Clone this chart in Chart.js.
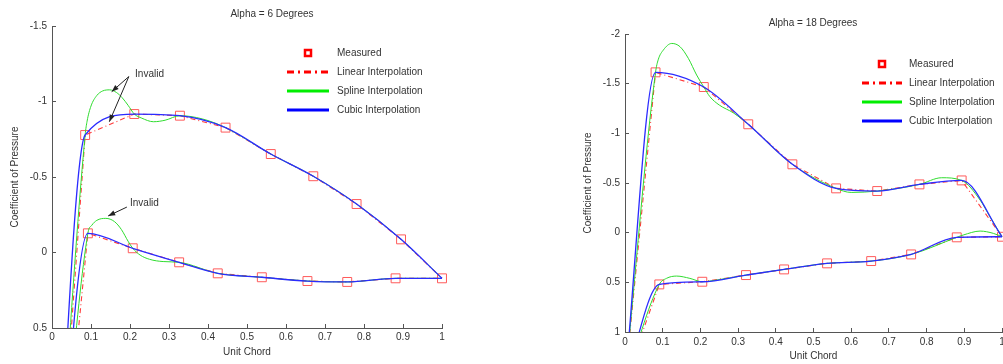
<!DOCTYPE html>
<html>
<head>
<meta charset="utf-8">
<title>Coefficient of Pressure</title>
<script src="https://cdn.jsdelivr.net/npm/chart.js@4.4.1/dist/chart.umd.min.js"></script>
<style>
  html, body { margin: 0; padding: 0; background: #fff; }
  #wrap { position: relative; width: 1003px; height: 364px; overflow: hidden; }
  #left { position: absolute; left: 0; top: 0; }
  #right { position: absolute; left: 500px; top: 0; }
</style>
</head>
<body>
<div id="wrap">
  <canvas id="left" width="500" height="364"></canvas>
  <canvas id="right" width="503" height="364"></canvas>
</div>
<script>
// Alpha = 6: measured Cp, upper and lower surface (first point is the leading edge, off scale)
const chordUp6 = [0, 0.085, 0.211, 0.328, 0.445, 0.561, 0.670, 0.781, 0.895, 1.0];
const cpUp6 = [2.3, -0.778, -0.917, -0.906, -0.827, -0.652, -0.505, -0.321, -0.087, 0.171];
const chordLo6 = [0, 0.092, 0.207, 0.326, 0.425, 0.538, 0.655, 0.757, 0.881, 1.0];
const cpLo6 = [2.3, -0.127, -0.028, 0.065, 0.138, 0.164, 0.189, 0.195, 0.171, 0.171];

// Alpha = 6: spline curve
const splineChordUp6 = [0, 0.085, 0.09, 0.10, 0.115, 0.13, 0.148, 0.165, 0.18, 0.195, 0.211, 0.23, 0.26, 0.29, 0.328, 0.385, 0.445, 0.561, 0.670, 0.781, 0.895, 1.0];
const splineCpUp6 = [2.3, -0.778, -0.87, -0.97, -1.04, -1.07, -1.077, -1.06, -1.025, -0.975, -0.917, -0.89, -0.866, -0.876, -0.906, -0.885, -0.827, -0.652, -0.505, -0.321, -0.087, 0.171];
const splineChordLo6 = [0, 0.092, 0.102, 0.115, 0.138, 0.16, 0.178, 0.195, 0.207, 0.226, 0.25, 0.285, 0.326, 0.425, 0.538, 0.655, 0.757, 0.881, 1.0];
const splineCpLo6 = [2.3, -0.127, -0.18, -0.213, -0.226, -0.205, -0.152, -0.075, -0.028, 0.017, 0.045, 0.06, 0.065, 0.138, 0.164, 0.189, 0.195, 0.171, 0.171];

// Alpha = 18: measured Cp
const chordUp18 = [0, 0.081, 0.209, 0.327, 0.444, 0.560, 0.669, 0.781, 0.893, 1.0];
const cpUp18 = [1.5, -1.614, -1.466, -1.091, -0.688, -0.446, -0.419, -0.486, -0.526, 0.041];
const chordLo18 = [0, 0.091, 0.205, 0.321, 0.422, 0.536, 0.653, 0.759, 0.880, 1.0];
const cpLo18 = [1.5, 0.521, 0.494, 0.427, 0.370, 0.309, 0.286, 0.219, 0.047, 0.041];

// Alpha = 18: spline curve
const splineChordUp18 = [0, 0.081, 0.088, 0.102, 0.124, 0.146, 0.168, 0.19, 0.209, 0.225, 0.25, 0.287, 0.327, 0.444, 0.560, 0.60, 0.669, 0.781, 0.84, 0.893, 0.942, 0.968, 1.0];
const splineCpUp18 = [1.5, -1.614, -1.74, -1.84, -1.905, -1.872, -1.755, -1.587, -1.466, -1.37, -1.285, -1.207, -1.091, -0.688, -0.446, -0.405, -0.419, -0.486, -0.553, -0.526, -0.328, -0.16, 0.041];
const splineChordLo18 = [0, 0.091, 0.11, 0.137, 0.172, 0.205, 0.243, 0.321, 0.422, 0.536, 0.653, 0.759, 0.880, 0.897, 0.942, 0.977, 1.0];
const splineCpLo18 = [1.5, 0.521, 0.46, 0.437, 0.46, 0.494, 0.477, 0.427, 0.370, 0.309, 0.286, 0.219, 0.047, 0.024, -0.016, 0.007, 0.041];

// tick labels
const chordTicks = [0, 0.1, 0.2, 0.3, 0.4, 0.5, 0.6, 0.7, 0.8, 0.9, 1];
const cpTicks6 = [-1.5, -1, -0.5, 0, 0.5];
const cpTicks18 = [-2, -1.5, -1, -0.5, 0, 0.5, 1];

// "Invalid" notes: text position and arrows [fromX, fromY, toX, toY] in data units
const notes6 = [
    { text: 'Invalid', at: [0.213, -1.18], arrows: [[0.197, -1.165, 0.153, -1.065], [0.197, -1.165, 0.147, -0.866]] },
    { text: 'Invalid', at: [0.2, -0.328], arrows: [[0.192, -0.301, 0.144, -0.242]] }
];

const FONT = '"Liberation Sans", Arial, sans-serif';
const RED = '#ff3b3b';
const GREEN = '#2fdc2f';
const BLUE = '#2b2bff';

const legendItems = [
    { label: 'Measured', marker: true },
    { label: 'Linear Interpolation', color: '#ff0000', dash: [7, 4, 2, 4] },
    { label: 'Spline Interpolation', color: '#00ee00', dash: [] },
    { label: 'Cubic Interpolation', color: '#0000ff', dash: [] }
];

function toPoints(xs, ys) {
    return xs.map((x, i) => ({ x: x, y: ys[i] }));
}

function drawArrow(ctx, x0, y0, x1, y1) {
    const ang = Math.atan2(y1 - y0, x1 - x0);
    ctx.beginPath();
    ctx.moveTo(x0, y0);
    ctx.lineTo(x1, y1);
    ctx.stroke();
    ctx.beginPath();
    ctx.moveTo(x1, y1);
    ctx.lineTo(x1 - 7 * Math.cos(ang) + 2.6 * Math.sin(ang), y1 - 7 * Math.sin(ang) - 2.6 * Math.cos(ang));
    ctx.lineTo(x1 - 7 * Math.cos(ang) - 2.6 * Math.sin(ang), y1 - 7 * Math.sin(ang) + 2.6 * Math.cos(ang));
    ctx.closePath();
    ctx.fill();
}

const decorPlugin = {
    id: 'decor',
    afterDraw(chart, args, opts) {
        const ctx = chart.ctx;
        const xs = chart.scales.x, ys = chart.scales.y;
        ctx.save();
        ctx.font = '10px ' + FONT;
        ctx.fillStyle = '#333';
        ctx.textAlign = 'center';
        ctx.textBaseline = 'middle';
        ctx.fillText(opts.title, opts.titleAt[0], opts.titleAt[1]);

        const lg = opts.legend;
        ctx.textAlign = 'left';
        legendItems.forEach((item, i) => {
            const y = lg.y + i * lg.row;
            if (item.marker) {
                ctx.strokeStyle = '#ff0000';
                ctx.lineWidth = 2.5;
                ctx.strokeRect(lg.x + lg.w / 2 - 3, y - 3, 6, 6);
            } else {
                ctx.strokeStyle = item.color;
                ctx.lineWidth = 3;
                ctx.setLineDash(item.dash);
                ctx.beginPath();
                ctx.moveTo(lg.x, y);
                ctx.lineTo(lg.x + lg.w, y);
                ctx.stroke();
                ctx.setLineDash([]);
            }
            ctx.fillStyle = '#333';
            ctx.fillText(item.label, lg.x + lg.w + lg.gap, y);
        });

        ctx.lineWidth = 1;
        (opts.notes || []).forEach(n => {
            ctx.fillStyle = '#333';
            ctx.fillText(n.text, xs.getPixelForValue(n.at[0]), ys.getPixelForValue(n.at[1]));
            ctx.strokeStyle = '#222';
            ctx.fillStyle = '#222';
            n.arrows.forEach(a => {
                drawArrow(ctx, xs.getPixelForValue(a[0]), ys.getPixelForValue(a[1]),
                    xs.getPixelForValue(a[2]), ys.getPixelForValue(a[3]));
            });
        });
        ctx.restore();
    }
};

function lineSet(label, xs, ys, color, width, order, extra) {
    return Object.assign({
        label: label,
        data: toPoints(xs, ys),
        borderColor: color,
        borderWidth: width,
        pointRadius: 0,
        fill: false,
        order: order,
        clip: { left: 0, top: 0, right: 1, bottom: 0 }
    }, extra);
}

function renderCpChart(htmlId, s) {
    const ctx = document.getElementById(htmlId).getContext('2d');
    const monotone = { cubicInterpolationMode: 'monotone' };
    const straight = { tension: 0, borderDash: [5, 3, 1, 3] };
    const measured = toPoints(s.chordUp.slice(1), s.cpUp.slice(1))
        .concat(toPoints(s.chordLo.slice(1, -1), s.cpLo.slice(1, -1)));

    new Chart(ctx, {
        type: 'line',
        data: {
            datasets: [
                {
                    label: 'Measured', data: measured, showLine: false,
                    pointStyle: 'rect', pointRadius: 6.3, pointBorderWidth: 1,
                    pointBorderColor: '#ff5a5a', pointBackgroundColor: 'rgba(0,0,0,0)',
                    order: 4, clip: { left: 8, top: 8, right: 8, bottom: 0 }
                },
                lineSet('Linear upper', s.chordUp, s.cpUp, RED, 1.1, 3, straight),
                lineSet('Linear lower', s.chordLo, s.cpLo, RED, 1.1, 3, straight),
                lineSet('Spline upper', s.splineChordUp, s.splineCpUp, GREEN, 1, 2, monotone),
                lineSet('Spline lower', s.splineChordLo, s.splineCpLo, GREEN, 1, 2, monotone),
                lineSet('Cubic upper', s.chordUp, s.cpUp, BLUE, 1.3, 1, monotone),
                lineSet('Cubic lower', s.chordLo, s.cpLo, BLUE, 1.3, 1, monotone)
            ]
        },
        options: {
            responsive: false,
            animation: false,
            events: [],
            layout: { padding: s.pad, autoPadding: false },
            plugins: {
                legend: { display: false },
                tooltip: { enabled: false },
                decor: { title: s.title, titleAt: s.titleAt, legend: s.legend, notes: s.notes }
            },
            scales: {
                x: {
                    type: 'linear', min: 0, max: 1,
                    afterBuildTicks: scale => { scale.ticks = chordTicks.map(v => ({ value: v })); },
                    afterFit: scale => { scale.height = s.xAxisHeight; scale.paddingLeft = 0; scale.paddingRight = 0; },
                    grid: { drawOnChartArea: false, tickLength: -4, color: '#555' },
                    border: { color: '#555', width: 1 },
                    ticks: {
                        color: '#333', padding: s.xTickPad, maxRotation: 0, autoSkip: false, font: { size: 10 },
                        callback: v => String(v)
                    },
                    title: { display: true, text: 'Unit Chord', color: '#333', font: { size: 10 }, padding: { top: 0, bottom: s.xTitlePad } }
                },
                y: {
                    type: 'linear', reverse: true, min: s.cpTicks[0], max: s.cpTicks[s.cpTicks.length - 1],
                    afterBuildTicks: scale => { scale.ticks = s.cpTicks.map(v => ({ value: v })); },
                    afterFit: scale => { scale.width = 52; scale.paddingTop = 0; scale.paddingBottom = 0; },
                    grid: { drawOnChartArea: false, tickLength: -4, color: '#555' },
                    border: { color: '#555', width: 1 },
                    ticks: { color: '#333', padding: 9, autoSkip: false, font: { size: 10 }, callback: v => String(v) },
                    title: { display: true, text: 'Coefficient of Pressure', color: '#333', font: { size: 10 }, padding: { top: 9, bottom: 0 } }
                }
            }
        },
        plugins: [decorPlugin]
    });
}

function loadCharts() {
    Chart.defaults.font.family = FONT;
    renderCpChart('left', {
        title: 'Alpha = 6 Degrees', titleAt: [272, 14],
        chordUp: chordUp6, cpUp: cpUp6, chordLo: chordLo6, cpLo: cpLo6,
        splineChordUp: splineChordUp6, splineCpUp: splineCpUp6,
        splineChordLo: splineChordLo6, splineCpLo: splineCpLo6,
        cpTicks: cpTicks6, notes: notes6,
        pad: { left: 0, top: 26, right: 58, bottom: 0 },
        xAxisHeight: 36, xTickPad: 7, xTitlePad: 6,
        legend: { x: 287, y: 53, row: 19, w: 42, gap: 8 }
    });
    renderCpChart('right', {
        title: 'Alpha = 18 Degrees', titleAt: [313, 23],
        chordUp: chordUp18, cpUp: cpUp18, chordLo: chordLo18, cpLo: cpLo18,
        splineChordUp: splineChordUp18, splineCpUp: splineCpUp18,
        splineChordLo: splineChordLo18, splineCpLo: splineCpLo18,
        cpTicks: cpTicks18, notes: [],
        pad: { left: 73, top: 34, right: 1, bottom: 0 },
        xAxisHeight: 32, xTickPad: 8, xTitlePad: 2,
        legend: { x: 362, y: 64, row: 19, w: 40, gap: 7 }
    });
}

window.onload = loadCharts;
</script>
</body>
</html>
